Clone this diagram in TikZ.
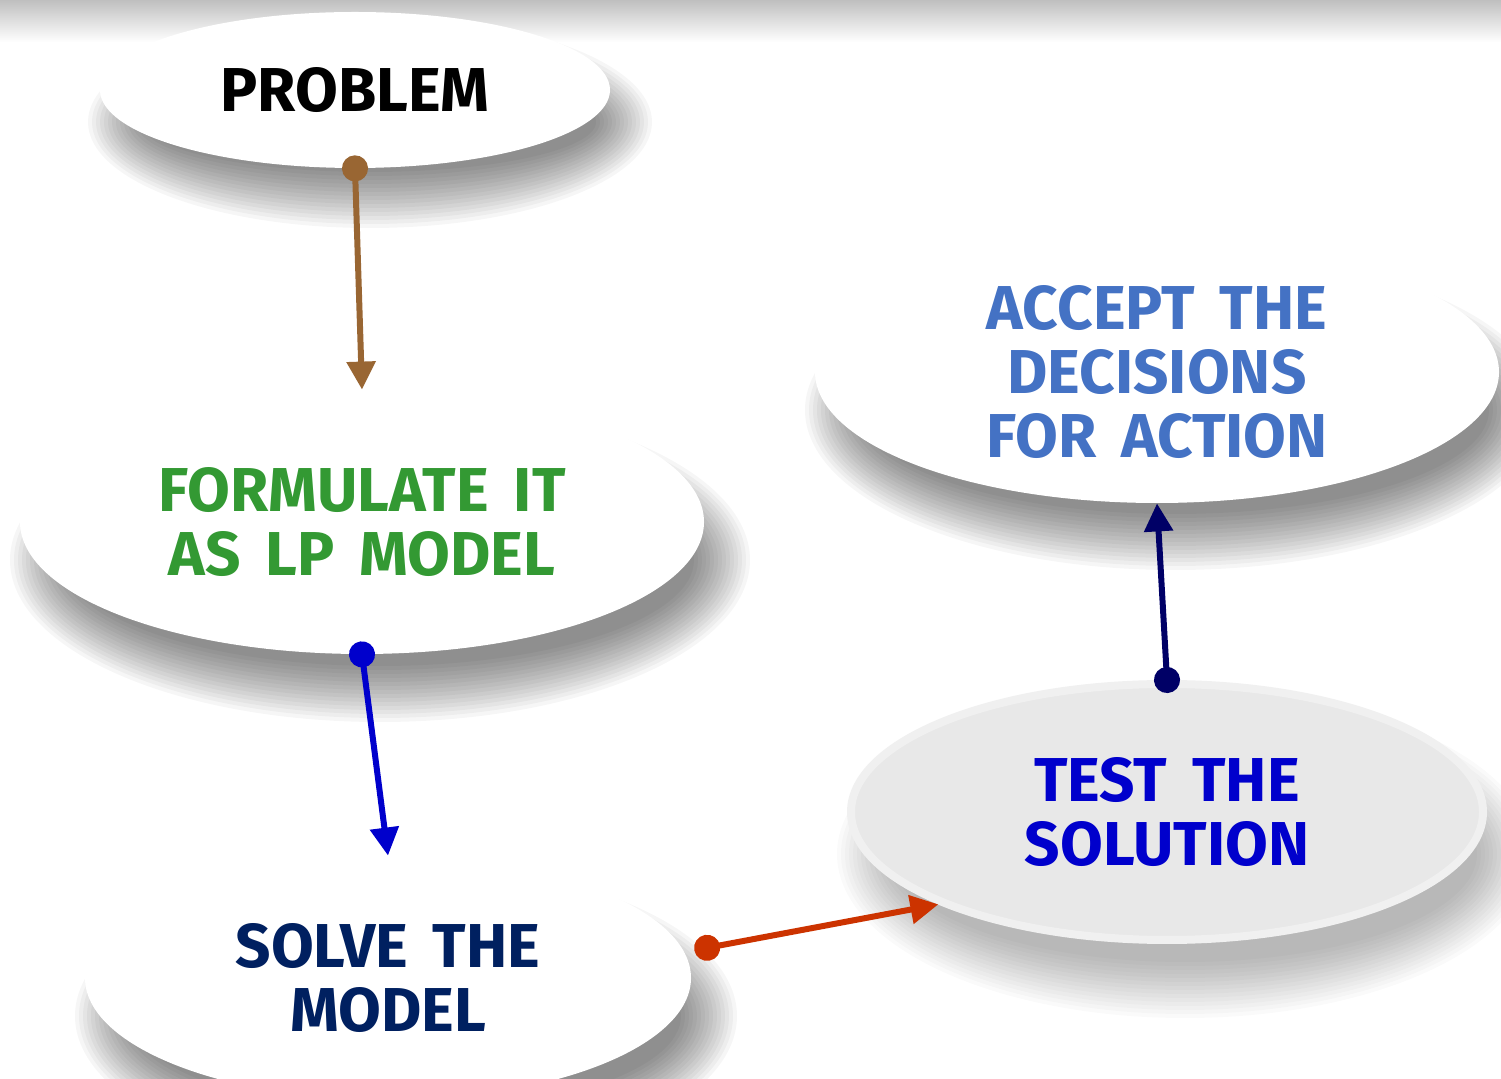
\documentclass[tikz,border=0pt]{standalone}
\usepackage{fontspec}
\setmainfont{Fira Sans}[WordSpace=1.7]
\usetikzlibrary{shapes.geometric,arrows.meta,calc}
\definecolor{cbrown}{HTML}{996633}
\definecolor{cgreen}{HTML}{339933}
\definecolor{csolve}{HTML}{002060}
\definecolor{caccept}{HTML}{4472C4}
\definecolor{ctest}{HTML}{0000CC}
\definecolor{cblue}{HTML}{0000CC}
\definecolor{cred}{HTML}{CC3300}
\definecolor{cnavy}{HTML}{000066}
\pgfdeclarelayer{background}
\pgfsetlayers{background,main}
\newcommand{\softshadow}[4]{%
  \foreach \k in {0,...,14}{%
    \fill[black, opacity=#4] #1 ellipse [x radius={#2-\k*4}, y radius={#3-\k*4}];}}
\begin{document}
\begin{tikzpicture}[x=0.5pt,y=-0.5pt,
  bubble/.style={ellipse, fill=white, inner sep=0pt, align=center,
    font=\bfseries\fontsize{31}{32}\selectfont},
  conn/.style={line width=3pt,
    {Circle[length=13pt,width=13pt]}-{Triangle[length=14pt,width=14pt]},
    shorten <=-6.5pt}]
\useasboundingbox (0,0) rectangle (1501,1079);

\node[bubble, minimum width=255pt, minimum height=78pt] (prob) at (355,90) {PROBLEM};
\node[bubble, minimum width=342pt, minimum height=132pt, text=cgreen] (form) at (362,522) {FORMULATE IT\\AS LP MODEL};
\node[bubble, minimum width=303pt, minimum height=122pt, text=csolve] (solve) at (388,978) {SOLVE THE\\MODEL};
\node[bubble, minimum width=342pt, minimum height=131pt, text=caccept] (accept) at (1157,372) {ACCEPT THE\\DECISIONS\\FOR ACTION};
\node[bubble, fill=gray!18, draw=gray!12, line width=4pt, minimum width=316pt, minimum height=128pt, text=ctest] (test) at (1167,812) {TEST THE\\SOLUTION};

\begin{pgfonlayer}{background}
\fill[white] (0,0) rectangle (1501,1079);
\softshadow{($(prob)+(15,32)$)}{282}{106}{0.034}
\softshadow{($(form)+(18,38)$)}{370}{162}{0.034}
\softshadow{($(solve)+(18,38)$)}{331}{152}{0.034}
\softshadow{($(accept)+(18,38)$)}{370}{160}{0.034}
\softshadow{($(test)+(18,42)$)}{348}{164}{0.02}
\shade[top color=gray!50, bottom color=white] (0,0) rectangle (1501,42);
\end{pgfonlayer}

\draw[conn, cbrown] (prob.south) -- (form.north);
\draw[conn, cblue] (form.south) -- (solve.north);
\draw[conn, cred, shorten <=5pt] (solve.5) -- (test.202);
\draw[conn, cnavy] (test.north) -- (accept.south);
\end{tikzpicture}
\end{document}
